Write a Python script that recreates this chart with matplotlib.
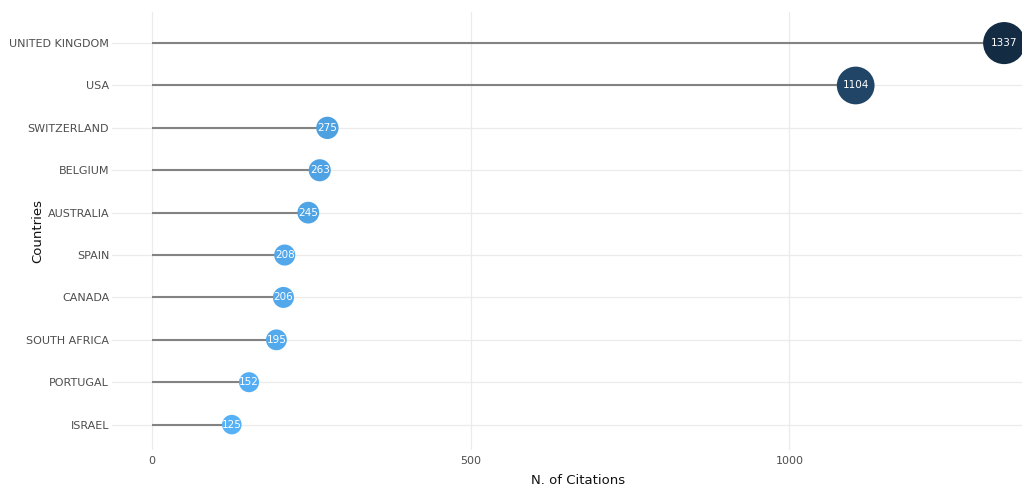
import matplotlib.pyplot as plt
import matplotlib.colors as mcolors
import numpy as np

countries = ['ISRAEL', 'PORTUGAL', 'SOUTH AFRICA', 'CANADA', 'SPAIN',
             'AUSTRALIA', 'BELGIUM', 'SWITZERLAND', 'USA', 'UNITED KINGDOM']
citations = [125, 152, 195, 206, 208, 245, 263, 275, 1104, 1337]
x_ticks = [0, 500, 1000]

fig = plt.figure(figsize=(10.22, 4.86), dpi=100)
ax = fig.add_axes([0.1096, 0.074, 0.8904, 0.901])

ypos = np.arange(len(countries))
vals = np.array(citations, dtype=float)

# colour scale: light blue for low, dark navy for high
cmap = mcolors.LinearSegmentedColormap.from_list('cit', ['#56B1F7', '#132B43'])
norm = plt.Normalize(vals.min(), vals.max())
colors = cmap(norm(vals))

# marker diameter grows with value (px -> points)
diam_px = 17.2 + 0.0186 * vals
sizes = (diam_px * 0.72) ** 2

for y, v in zip(ypos, vals):
    ax.plot([0, v], [y, y], color='#838383', lw=1.5, zorder=2, solid_capstyle='butt')
ax.scatter(vals, ypos, s=sizes, c=colors, zorder=3, edgecolors='none')
for y, v in zip(ypos, citations):
    ax.text(v, y, str(v), color='white', ha='center', va='center', fontsize=7.5, zorder=4)

ax.set_xlim(-63, 1365)
ax.set_ylim(-0.6, 9.73)
ax.set_yticks(ypos)
ax.set_yticklabels(countries)
ax.set_xticks(x_ticks)
ax.set_xticklabels([str(t) for t in x_ticks])
ax.tick_params(axis='both', length=0, labelsize=8, colors='#4d4d4d')
ax.tick_params(axis='y', pad=2)
ax.tick_params(axis='x', pad=4)
ax.grid(True, color='#ebebeb', lw=0.9)
ax.set_axisbelow(True)
for s in ax.spines.values():
    s.set_visible(False)

ax.set_xlabel('N. of Citations', fontsize=9.5, color='#111111')
ax.set_ylabel('Countries', fontsize=9.5, color='#111111')
ax.xaxis.set_label_coords((578 - 112) / 910, -0.055)
ax.yaxis.set_label_coords(-(112 - 44) / 910, 0.5)

fig.savefig('out.png', dpi=100)
